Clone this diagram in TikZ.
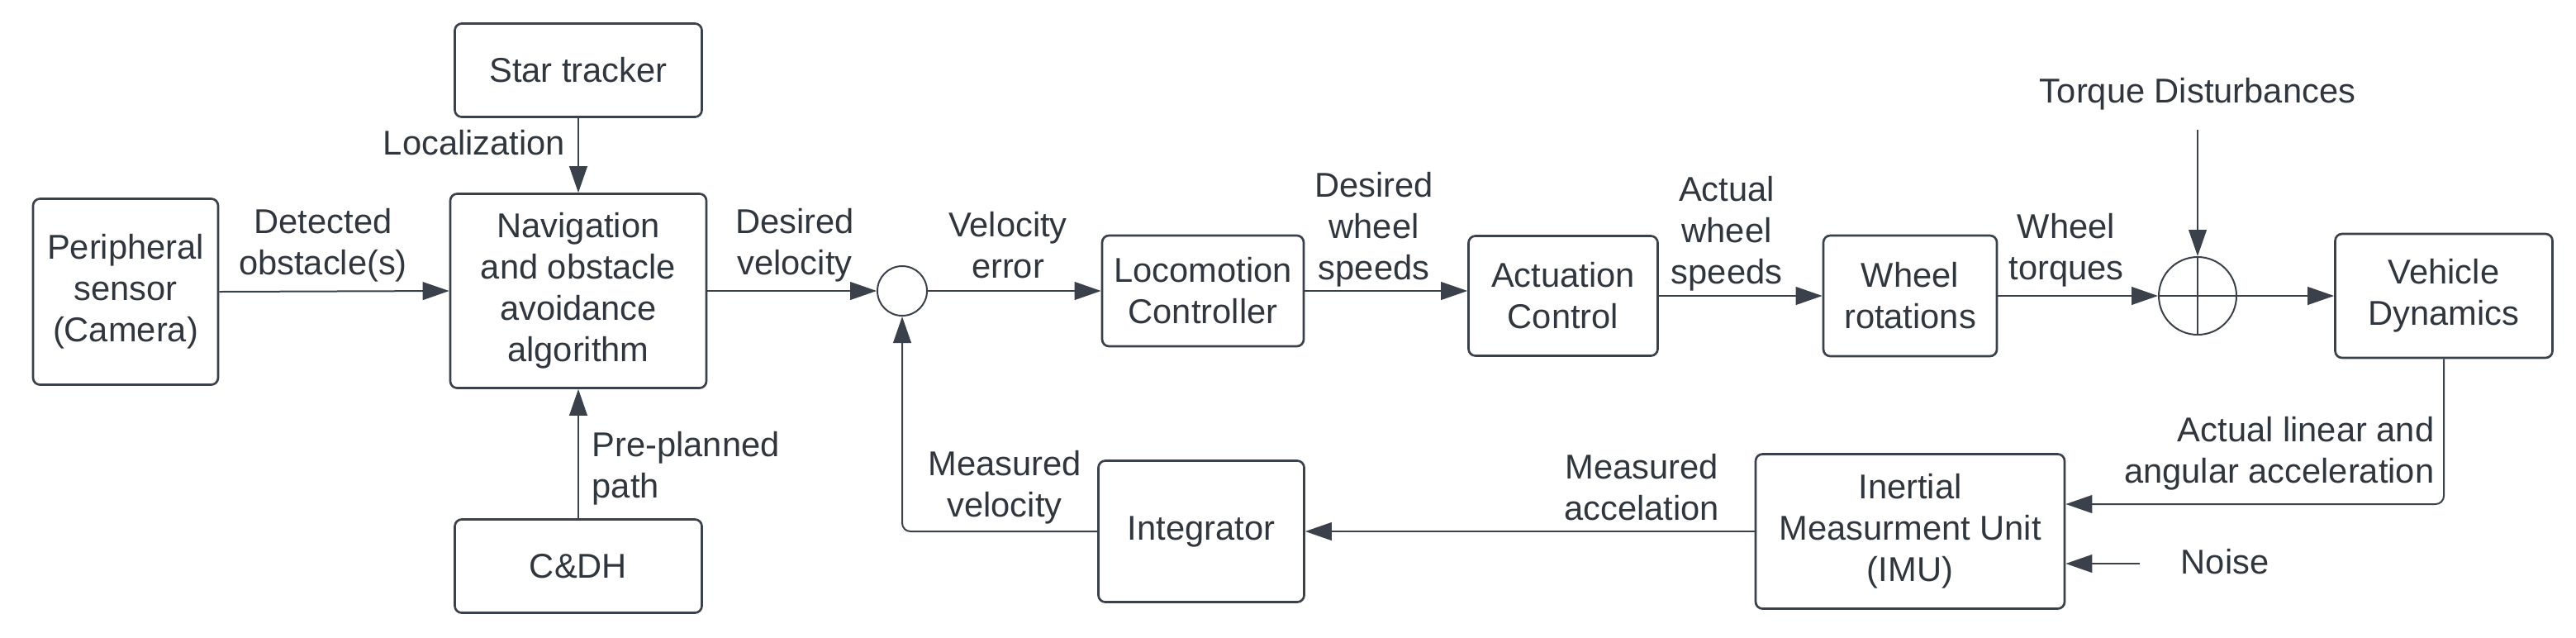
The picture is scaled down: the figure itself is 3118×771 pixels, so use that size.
\documentclass[tikz,border=0pt]{standalone}
\usepackage{fontspec}
\setmainfont{Liberation Sans}
\usetikzlibrary{arrows.meta,calc}
\definecolor{ln}{HTML}{3A414A}
\definecolor{tx}{HTML}{30363D}
\begin{document}
\begin{tikzpicture}[x=0.3pt,y=-0.3pt,
  font=\fontsize{12.5}{15}\selectfont,
  box/.style={draw=ln, line width=0.8pt, rounded corners=2.5pt, align=center, inner sep=0pt, text=tx},
  sumc/.style={draw=ln, line width=0.6pt, circle, inner sep=0pt},
  lbl/.style={align=center, inner sep=0pt, text=tx},
  arr/.style={draw=ln, line width=0.6pt, -{Triangle[length=9.6pt,width=6.5pt]}}]
\useasboundingbox (0,0) rectangle (3118,771);
% blocks
\node[box, minimum width=67.2pt, minimum height=67.5pt] (periph) at (152,353) {Peripheral\\sensor\\(Camera)};
\node[box, minimum width=89.7pt, minimum height=33.9pt] (star) at (700,85) {Star tracker};
\node[box, minimum width=93pt, minimum height=70.5pt] (nav) at (700,352) {Navigation\\and obstacle\\avoidance\\algorithm};
\node[box, minimum width=89.7pt, minimum height=33.9pt] (cdh) at (700,685) {C\&DH};
\node[sumc, minimum size=18pt] (sum1) at (1092,352) {};
\node[box, minimum width=73.2pt, minimum height=40.2pt] (loco) at (1456,352) {Locomotion\\Controller};
\node[box, minimum width=68.7pt, minimum height=43.5pt] (act) at (1892,358) {Actuation\\Control};
\node[box, minimum width=63pt, minimum height=43.8pt] (wheel) at (2312,358) {Wheel\\rotations};
\node[sumc, minimum size=28.2pt] (sum2) at (2660,358) {};
\draw[ln, line width=0.6pt] (sum2.north) -- (sum2.south) (sum2.west) -- (sum2.east);
\node[box, minimum width=78.9pt, minimum height=45pt] (vd) at (2958,358) {Vehicle\\Dynamics};
\node[box, minimum width=112.2pt, minimum height=56.1pt] (imu) at (2312,643) {Inertial\\Measurment Unit\\(IMU)};
\node[box, minimum width=74.7pt, minimum height=51.3pt] (integ) at (1454,643) {Integrator};
% free labels / sources
\node[lbl] (torq) at (2660,114) {Torque Disturbances};
\coordinate (torqs) at (2660,157);
\node[lbl] (noise) at (2693,680) {Noise};
\coordinate (noises) at (2590,682);
% connectors
\draw[arr] (periph.east) -- (nav.west);
\draw[arr] (star.south) -- (nav.north);
\draw[arr] (cdh.north) -- (nav.south);
\draw[arr] (nav.east) -- (sum1.west);
\draw[arr] (sum1.east) -- (loco.west);
\draw[arr] (loco.east) -- (loco.east -| act.west);
\draw[arr] (act.east) -- (wheel.west);
\draw[arr] (wheel.east) -- (sum2.west);
\draw[arr] (sum2.east) -- (vd.west);
\draw[arr] (torqs) -- (sum2.north);
\draw[arr, rounded corners=3pt] (vd.south) |- ([yshift=9.9pt]imu.east);
\draw[arr] (noises) -- (noises -| imu.east);
\draw[arr] (imu.west) -- (integ.east);
\draw[arr, rounded corners=3pt] (integ.west) -| (sum1.south);
% connector labels
\node[lbl] (l1) at (391,297) {Detected\\obstacle(s)};
\node[lbl] (l2) at (962,297) {Desired\\velocity};
\node[lbl] (l3) at (574,173) {Localization};
\node[lbl, align=left, anchor=west] (l4) at (716,567) {Pre-planned\\path};
\node[lbl] (l5) at (1220,297) {Velocity\\error};
\node[lbl] (l6) at (1663,278) {Desired\\wheel\\speeds};
\node[lbl] (l7) at (2090,283) {Actual\\wheel\\speeds};
\node[lbl] (l8) at (2501,303) {Wheel\\torques};
\node[lbl, align=right, anchor=east] (l9) at (2947,549) {Actual linear and\\angular acceleration};
\node[lbl] (l10) at (1987,590) {Measured\\accelation};
\node[lbl] (l11) at (1216,590) {Measured\\velocity};
\end{tikzpicture}
\end{document}
